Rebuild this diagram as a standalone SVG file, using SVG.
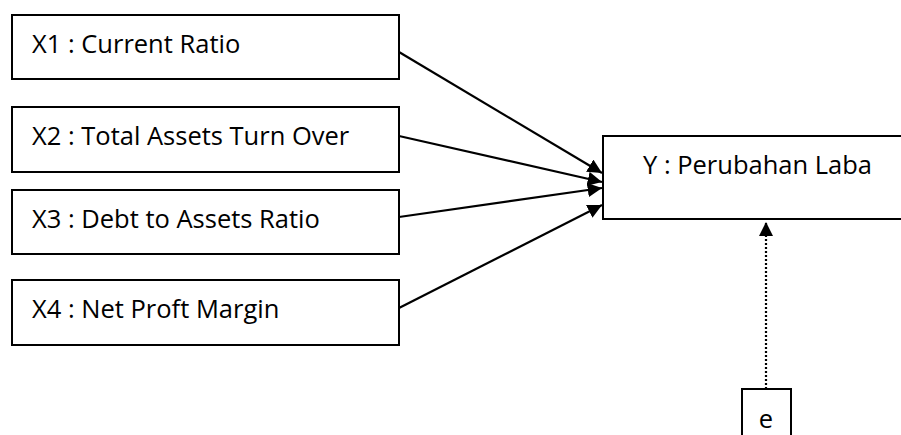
<svg xmlns="http://www.w3.org/2000/svg" width="901" height="435" viewBox="0 0 901 435">
<style>
.box{fill:#fff;stroke:#000;stroke-width:2}
.t{font-family:"Open Sans","Liberation Sans",sans-serif;font-size:25.5px;fill:#000}
.c{stroke:#000;stroke-width:2.2;fill:none}
.d{stroke:#000;stroke-width:2.2;fill:none;stroke-dasharray:2 2}
</style>
<defs>
<marker id="ah" viewBox="0 0 10 10" refX="10" refY="5" markerWidth="6.5" markerHeight="6.5" orient="auto" markerUnits="strokeWidth">
<path d="M0,0 L10,5 L0,10 Z" fill="#000"/>
</marker>
</defs>
<rect width="901" height="435" fill="#fff"/>
<g id="x1"><rect class="box" x="12" y="15" width="387" height="64"/><text class="t" x="32" y="53">X1 : Current Ratio</text></g>
<g id="x2"><rect class="box" x="12" y="107" width="387" height="65"/><text class="t" x="32" y="145">X2 : Total Assets Turn Over</text></g>
<g id="x3"><rect class="box" x="12" y="190" width="387" height="64"/><text class="t" x="32" y="228">X3 : Debt to Assets Ratio</text></g>
<g id="x4"><rect class="box" x="12" y="280" width="387" height="65"/><text class="t" x="32" y="318">X4 : Net Proft Margin</text></g>
<g id="y"><rect class="box" x="603" y="136" width="300" height="83"/><text class="t" x="643" y="174">Y : Perubahan Laba</text></g>
<g id="e"><rect class="box" x="742" y="389" width="49" height="50"/><text class="t" x="766" y="428" text-anchor="middle">e</text></g>
<g id="connectors">
<line class="c" x1="399" y1="52" x2="602" y2="173" marker-end="url(#ah)"/>
<line class="c" x1="399" y1="136" x2="602" y2="182" marker-end="url(#ah)"/>
<line class="c" x1="399" y1="217" x2="602" y2="188" marker-end="url(#ah)"/>
<line class="c" x1="399" y1="308" x2="602" y2="205" marker-end="url(#ah)"/>
<line class="d" x1="766" y1="389" x2="766" y2="222" marker-end="url(#ah)"/>
</g>
</svg>
